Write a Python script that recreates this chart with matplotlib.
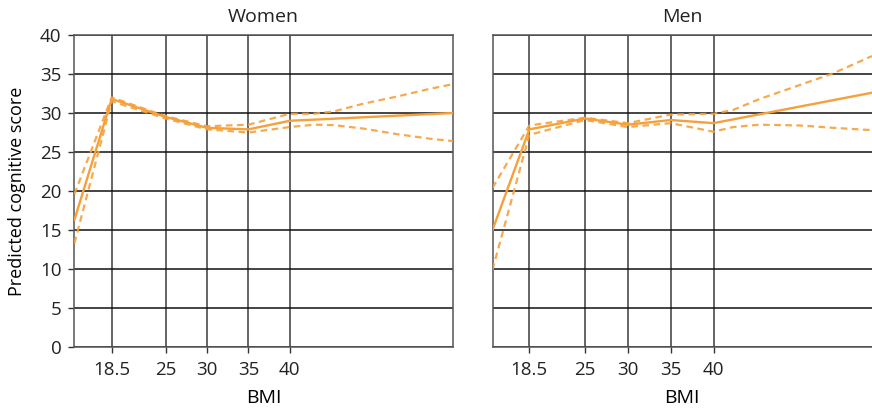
import matplotlib
matplotlib.use("Agg")
import matplotlib.pyplot as plt

# ── data ──────────────────────────────────────────────────────────────────────

BMI_TICKS = [18.5, 25, 30, 35, 40]
Y_TICKS = [0, 5, 10, 15, 20, 25, 30, 35, 40]

# Women
women_bmi = [14, 18.5, 25, 30, 35, 40, 59.7]
women_est = [16.3, 31.8, 29.5, 28.1, 27.9, 29.0, 30.0]
women_ci_bmi = [14, 18.5, 25, 30, 35, 40, 42.9, 45.3, 48.9, 52.9, 56.9, 59.7]
women_hi = [19.6, 32.0, 29.6, 28.3, 28.5, 29.9, 29.9, 30.2, 31.2, 32.1, 33.1, 33.7]
women_lo = [13.3, 31.5, 29.3, 27.9, 27.5, 28.2, 28.5, 28.45, 28.0, 27.3, 26.7, 26.4]

# Men
men_bmi = [14.2, 18.5, 25, 30, 35, 40, 58.5]
men_est = [15.0, 27.9, 29.3, 28.5, 29.1, 28.7, 32.6]
men_ci_bmi = [14.2, 18.5, 25, 30, 35, 40, 42.3, 44.3, 45.4, 50.1, 54.0, 58.5]
men_hi = [20.4, 28.4, 29.4, 28.7, 29.8, 29.9, 30.4, 31.3, 31.8, 33.6, 35.1, 37.3]
men_lo = [9.9, 27.2, 29.1, 28.2, 28.7, 27.6, 28.2, 28.4, 28.5, 28.4, 28.1, 27.8]

ORANGE = "#F5A03A"
FONT = ["Open Sans", "DejaVu Sans"]

plt.rcParams["font.family"] = FONT
plt.rcParams["text.color"] = "#222222"


def _panel(ax, title, xlim, bmi, est, ci_bmi, hi, lo):
    ax.plot(bmi, est, color=ORANGE, lw=1.7, zorder=3)
    ax.plot(ci_bmi, hi, color=ORANGE, lw=1.6, ls=(0, (3, 2)), alpha=0.9, zorder=3)
    ax.plot(ci_bmi, lo, color=ORANGE, lw=1.6, ls=(0, (3, 2)), alpha=0.9, zorder=3)

    ax.set_xlim(*xlim)
    ax.set_ylim(0, 40)
    ax.set_xticks(BMI_TICKS)
    ax.set_xticklabels(["18.5", "25", "30", "35", "40"])
    ax.set_yticks(Y_TICKS)
    ax.grid(axis="y", color="#111111", lw=1.1, zorder=1)
    ax.grid(axis="x", color="#4a4a4a", lw=1.2, zorder=1)
    ax.set_axisbelow(True)
    for s in ax.spines.values():
        s.set_color("#555555")
        s.set_linewidth(1.1)
    ax.tick_params(axis="both", direction="out", length=4, width=1.0,
                   color="#333333", labelsize=13.5, labelcolor="#222222")
    ax.tick_params(axis="x", pad=6)
    ax.tick_params(axis="y", pad=5)
    ax.set_title(title, fontsize=14, pad=9.5, color="#222222")
    ax.set_xlabel("BMI", fontsize=14, labelpad=7)


fig = plt.figure(figsize=(8.72, 4.09), dpi=100)
ax_w = fig.add_axes([74 / 872, 1 - 347 / 409, (453 - 74) / 872, (347 - 35) / 409])
ax_m = fig.add_axes([492.5 / 872, 1 - 347 / 409, (872 - 492.5) / 872, (347 - 35) / 409])

_panel(ax_w, "Women", (13.95, 59.7), women_bmi, women_est,
       women_ci_bmi, women_hi, women_lo)
_panel(ax_m, "Men", (14.2, 58.5), men_bmi, men_est,
       men_ci_bmi, men_hi, men_lo)

ax_w.set_ylabel("Predicted cognitive score", fontsize=13, labelpad=10)
ax_m.tick_params(axis="y", length=0, labelleft=False)
ax_m.spines["right"].set_visible(False)

fig.savefig("out.png", dpi=100)
